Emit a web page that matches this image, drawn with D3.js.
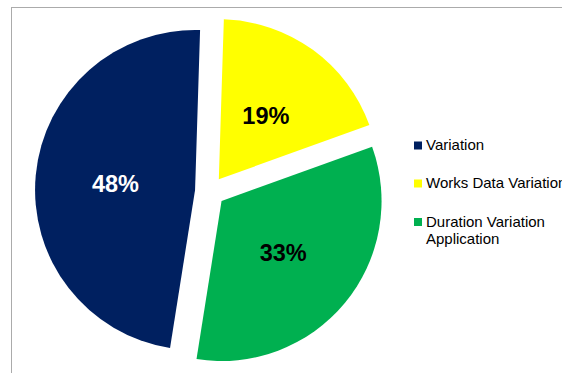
<!DOCTYPE html>
<html>
<head>
<meta charset="utf-8">
<script src="https://cdn.jsdelivr.net/npm/d3@7"></script>
<style>
  html, body { margin: 0; padding: 0; background: #fff; }
  svg { display: block; }
</style>
</head>
<body>
<svg id="chart" width="562" height="373"></svg>
<script>
// Share of applications by type
const categories = ["Variation", "Works Data Variation", "Duration Variation Application"];
const values = [48, 19, 33];
const percentLabels = ["48%", "19%", "33%"];
const legendLines = [["Variation"], ["Works Data Variation"], ["Duration Variation", "Application"]];
const colors = ["#002060", "#FFFF00", "#00B050"];
const labelColors = ["#FFFFFF", "#000000", "#000000"];

const svg = d3.select("#chart");
const W = 562, H = 373;

// chart frame (extends past the right and bottom edges)
svg.append("rect")
  .attr("x", 11.5).attr("y", 7.5)
  .attr("width", W + 20).attr("height", H + 20)
  .attr("fill", "#fff")
  .attr("stroke", "#ABABAB")
  .attr("stroke-width", 1);

const cx = 210, cy = 191.4, radius = 160, explode = 15;
const start = 189 * Math.PI / 180;

const pie = d3.pie().sort(null).value(d => d)
  .startAngle(start).endAngle(start + 2 * Math.PI);
const arcs = pie(values);

const arc = d3.arc().innerRadius(0).outerRadius(radius);

const g = svg.append("g").attr("transform", `translate(${cx},${cy})`);

const slices = g.selectAll("g.slice").data(arcs).join("g")
  .attr("class", "slice")
  .attr("transform", d => {
    const mid = (d.startAngle + d.endAngle) / 2;
    return `translate(${Math.sin(mid) * explode},${-Math.cos(mid) * explode})`;
  });

slices.append("path")
  .attr("d", arc)
  .attr("fill", (d, i) => colors[i]);

slices.append("text")
  .attr("transform", d => `translate(${arc.centroid(d)})`)
  .attr("text-anchor", "middle")
  .attr("dy", "0.4em")
  .attr("font-family", "Liberation Sans, Arial, sans-serif")
  .attr("font-weight", "bold")
  .attr("font-size", 23.5)
  .attr("fill", (d, i) => labelColors[i])
  .text((d, i) => percentLabels[i]);

// legend
const legendX = 414, legendTops = [141.5, 179.5, 218];
const legend = svg.append("g");
categories.forEach((c, i) => {
  const item = legend.append("g").attr("transform", `translate(${legendX},${legendTops[i]})`);
  item.append("rect")
    .attr("width", 8).attr("height", 8)
    .attr("fill", colors[i]);
  const t = item.append("text")
    .attr("x", 12).attr("y", 8.7)
    .attr("font-family", "Liberation Sans, Arial, sans-serif")
    .attr("font-size", 15)
    .attr("fill", "#000");
  legendLines[i].forEach((line, j) => {
    t.append("tspan").attr("x", 12).attr("dy", j === 0 ? 0 : 17.5).text(line);
  });
});
</script>
</body>
</html>
